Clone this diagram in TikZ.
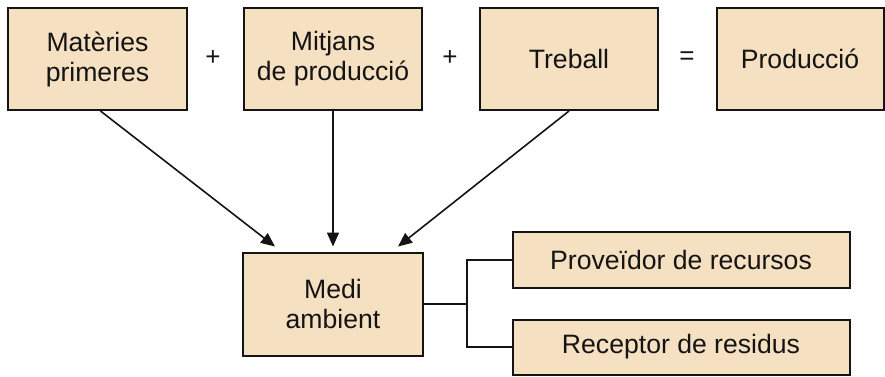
\documentclass[tikz,border=0pt]{standalone}
\usepackage{fontspec}
\setmainfont{Liberation Sans}
\usetikzlibrary{arrows.meta}
\definecolor{boxfill}{RGB}{245,224,193}
\definecolor{ink}{RGB}{20,20,20}
\begin{document}
\begin{tikzpicture}[x=1pt,y=-1pt,
  box/.style={draw=ink, fill=boxfill, line width=2pt, rectangle, inner sep=0pt,
    align=center, text=ink, font=\fontsize{26.6}{30}\selectfont},
  op/.style={text=ink, font=\fontsize{26}{30}\selectfont, inner sep=0pt},
  arr/.style={draw=ink, line width=1.6pt, -{Triangle[length=14pt,width=12pt]}},
  link/.style={draw=ink, line width=1.8pt, line join=miter}]
\useasboundingbox (0,0) rectangle (885,376);
\node[box, minimum width=179pt, minimum height=102pt] (b1) at (97.5,59) {Matèries\\primeres};
\node[box, minimum width=178pt, minimum height=102pt] (b2) at (333,59) {Mitjans\\de producció};
\node[box, minimum width=178pt, minimum height=102pt] (b3) at (569,59) {Treball};
\node[box, minimum width=167pt, minimum height=102pt] (b4) at (800,59) {Producció};
\node[op] (p1) at (213,58) {+};
\node[op] (p2) at (450,58) {+};
\node[op] (eq) at (687,58) {=};
\node[box, minimum width=180pt, minimum height=103pt] (medi) at (333,304) {Medi\\ambient};
\node[box, minimum width=337pt, minimum height=56pt] (prov) at (681,260) {Proveïdor de recursos};
\node[box, minimum width=337pt, minimum height=55pt] (rec) at (681,347) {Receptor de residus};
\draw[arr] ([xshift=3pt]b1.south) -- ([xshift=-58pt,yshift=5pt]medi.north);
\draw[arr] (b2.south) -- ([yshift=5pt]medi.north);
\draw[arr] (b3.south) -- ([xshift=65pt,yshift=5pt]medi.north);
\coordinate (j) at (467,304);
\draw[link] (medi.east) -- (j);
\draw[link] (prov.west) -| (j) |- (rec.west);
\end{tikzpicture}
\end{document}
